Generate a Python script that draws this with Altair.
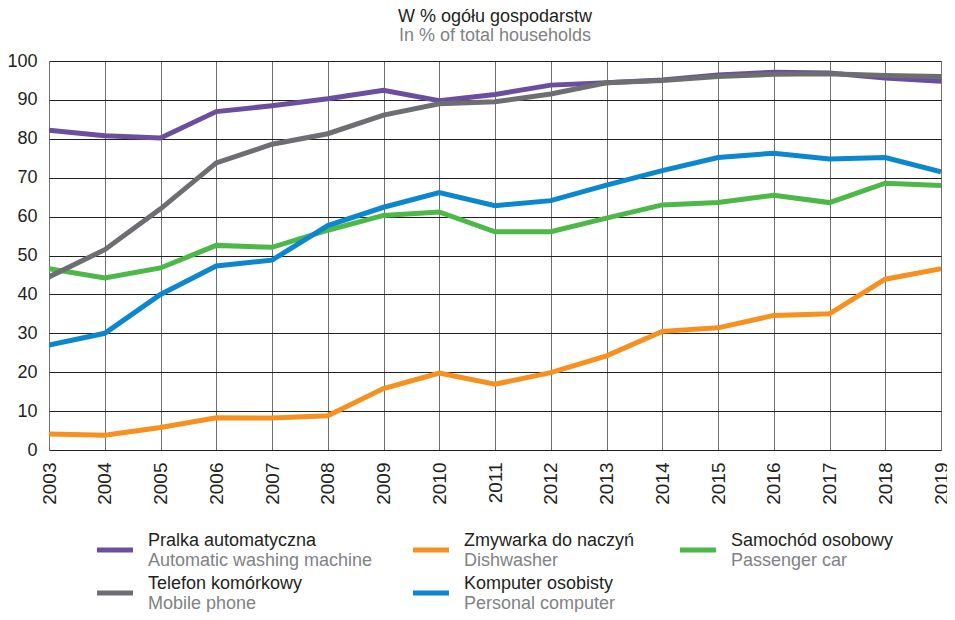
import altair as alt
import pandas as pd

years = list(range(2003, 2020))

washing = [82.2, 80.8, 80.2, 87.0, 88.5, 90.3, 92.5, 89.8, 91.4, 93.8, 94.4, 95.1, 96.4, 97.1, 96.9, 95.6, 94.8]
mobile = [44.5, 51.5, 62.0, 73.8, 78.6, 81.3, 86.1, 89.0, 89.5, 91.5, 94.4, 95.0, 96.0, 96.6, 96.7, 96.3, 96.0]
car = [46.6, 44.2, 46.8, 52.6, 52.1, 56.5, 60.3, 61.2, 56.1, 56.1, 59.6, 63.0, 63.6, 65.5, 63.6, 68.6, 68.0]
computer = [27.0, 30.0, 40.0, 47.3, 48.8, 57.7, 62.4, 66.2, 62.8, 64.1, 68.1, 71.8, 75.2, 76.3, 74.8, 75.2, 71.5]
dishwasher = [4.1, 3.8, 5.8, 8.3, 8.2, 8.8, 15.8, 19.8, 16.9, 19.9, 24.2, 30.5, 31.4, 34.6, 35.0, 43.9, 46.6]

series_keys = ["washing", "dishwasher", "car", "mobile", "computer"]
series_values = [washing, dishwasher, car, mobile, computer]
names_pl = ["Pralka automatyczna", "Zmywarka do naczyń", "Samochód osobowy", "Telefon komórkowy", "Komputer osobisty"]
names_en = ["Automatic washing machine", "Dishwasher", "Passenger car", "Mobile phone", "Personal computer"]
colors = ["#6b4ea0", "#f7901e", "#4cb848", "#6d6e71", "#0a87cf"]

# legend layout (legend grid: column start, row index)
legend_col_x = [48, 364, 631, 48, 364]
legend_row = [0, 0, 0, 1, 1]

# draw order (last on top)
draw_order = ["washing", "car", "computer", "dishwasher", "mobile"]

rows = []
for key, vals in zip(series_keys, series_values):
    for y, v in zip(years, vals):
        rows.append({"year": y, "value": v, "series": key})
df = pd.DataFrame(rows)

leg = pd.DataFrame({
    "series": series_keys,
    "pl": names_pl,
    "en": names_en,
    "lx": legend_col_x,
    "lx2": [v + 36 for v in legend_col_x],
    "tx": [v + 51 for v in legend_col_x],
    "row": legend_row,
})

FONT = "Liberation Sans"
color_scale = alt.Scale(domain=series_keys, range=colors)

x_enc = alt.X("year:Q", scale=alt.Scale(domain=[2003, 2019], nice=False, zero=False),
              axis=alt.Axis(values=years, format="d", labelAngle=270, labelAlign="right",
                            labelBaseline="middle", labelPadding=12, ticks=False, domain=False,
                            grid=True, gridColor="#6f6f6f", gridWidth=1, labelFontSize=19,
                            labelFont=FONT, labelColor="#231f20", title=None,
                            labelOverlap=False, labelBound=False))
y_enc = alt.Y("value:Q", scale=alt.Scale(domain=[0, 100], nice=False),
              axis=alt.Axis(values=list(range(0, 101, 10)), ticks=False, domain=False,
                            grid=True, gridColor="#231f20", gridWidth=1, labelFontSize=18,
                            labelFont=FONT, labelColor="#231f20", labelPadding=12, title=None))

line_layers = []
for key in draw_order:
    line_layers.append(
        alt.Chart(df).transform_filter(alt.datum.series == key).mark_line(
            strokeWidth=5, clip=True
        ).encode(
            x=x_enc, y=y_enc,
            color=alt.Color("series:N", scale=color_scale, legend=None),
        )
    )
main = alt.layer(*line_layers)

lx_scale = alt.Scale(domain=[0, 892], range=[0, 892], zero=False, nice=False)
ly_scale = alt.Scale(domain=[0, 1], range=[489, 532], zero=False, nice=False)

swatch = alt.Chart(leg).mark_rule(strokeWidth=5, clip=False).encode(
    x=alt.X("lx:Q", scale=lx_scale, axis=None),
    x2="lx2:Q",
    y=alt.Y("row:Q", scale=ly_scale, axis=None),
    color=alt.Color("series:N", scale=color_scale, legend=None),
)
text_pl = alt.Chart(leg).mark_text(align="left", baseline="middle", dy=-9, fontSize=18,
                                   font=FONT, color="#231f20", clip=False).encode(
    x=alt.X("tx:Q", scale=lx_scale, axis=None),
    y=alt.Y("row:Q", scale=ly_scale, axis=None),
    text="pl:N",
)
text_en = alt.Chart(leg).mark_text(align="left", baseline="middle", dy=11, fontSize=18,
                                   font=FONT, color="#808285", clip=False).encode(
    x=alt.X("tx:Q", scale=lx_scale, axis=None),
    y=alt.Y("row:Q", scale=ly_scale, axis=None),
    text="en:N",
)
legend = alt.layer(swatch, text_pl, text_en)

chart = alt.layer(main, legend).resolve_scale(
    x="independent", y="independent"
).properties(
    width=892,
    height=389,
    autosize=alt.AutoSizeParams(type="none"),
    padding={"left": 41, "top": 53, "right": 6, "bottom": 162},
    title=alt.TitleParams(
        text="W % ogółu gospodarstw",
        subtitle="In % of total households",
        anchor="middle",
        font=FONT, fontSize=18, fontWeight="normal", color="#231f20",
        subtitleFont=FONT, subtitleFontSize=18, subtitleColor="#808285",
        subtitlePadding=1, offset=7,
    ),
).configure_view(stroke=None)

chart.save("out.html", embed_options={"renderer": "svg", "actions": False})
